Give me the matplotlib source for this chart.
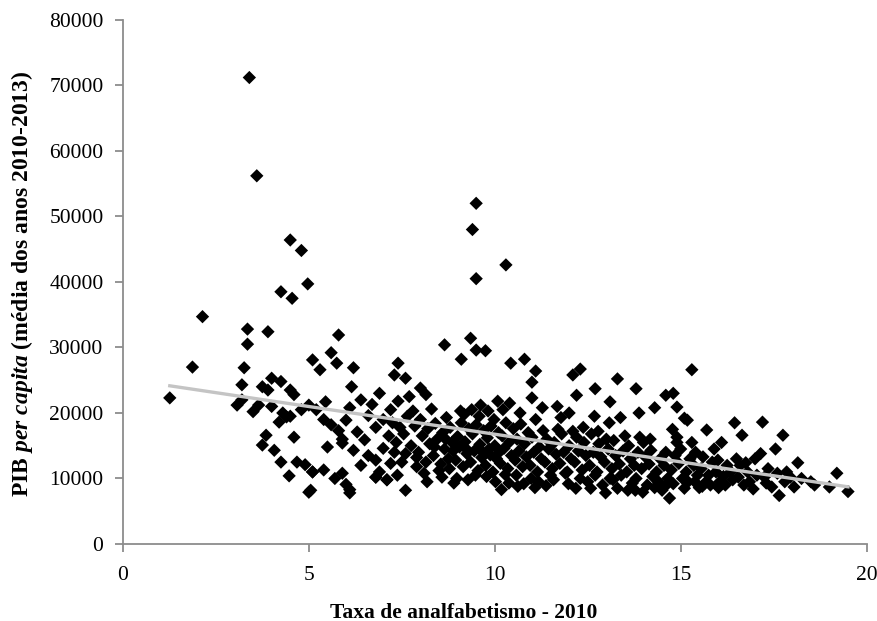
import matplotlib
matplotlib.use("Agg")
import matplotlib.pyplot as plt
import numpy as np

# ---- data ----
outlier_x = [3.4, 3.6, 4.5, 4.8, 4.25, 4.55, 4.97, 3.35, 3.35, 3.9, 2.14, 1.87, 1.26,
             9.5, 9.4, 9.5, 10.3, 9.35, 9.5, 9.1, 9.75, 8.65,
             5.8, 5.6, 5.75, 5.1, 5.3, 6.2, 6.15, 7.4, 7.3, 7.6, 8.0, 8.15, 6.9, 6.4, 5.45,
             10.43, 10.8, 11.1, 11.0, 12.1, 12.3, 12.7, 13.3, 13.8, 13.1, 14.6, 14.8, 14.3,
             14.9, 15.1, 14.9, 15.3, 12.0, 11.0, 10.4, 12.2]
outlier_y = [71200, 56200, 46400, 44800, 38500, 37500, 39700, 32800, 30500, 32400, 34700, 27000, 22300,
             52000, 48000, 40500, 42600, 31400, 29600, 28200, 29500, 30400,
             31900, 29200, 27600, 28100, 26600, 26900, 24000, 27600, 25800, 25300, 23800, 22800, 23000, 22000, 21700,
             27600, 28200, 26400, 24700, 25800, 26700, 23700, 25200, 23700, 21700, 22700, 23000, 20800,
             20900, 19200, 16300, 26600, 20000, 22300, 21500, 22700]

low_x = [3.07, 3.2, 3.2, 3.26, 3.5, 3.65, 3.75, 4.0, 4.25, 4.5, 4.6, 4.3, 4.2, 4.4, 3.85, 3.75,
         4.07, 4.25, 4.47, 4.6, 4.68, 4.9, 5.1, 5.0, 5.0, 4.0, 3.9, 4.8, 4.5,
         5.2, 5.4, 5.6, 5.8, 5.9, 6.0, 6.1, 6.3, 6.5, 6.6, 6.7, 6.8, 7.0, 6.2, 6.6, 6.8, 7.0,
         6.4, 6.0, 6.1, 5.7, 6.9, 7.1, 6.8, 7.2, 5.5, 5.9, 5.1, 5.4, 5.9, 6.1, 5.05, 6.8, 7.1, 7.6, 7.9]
low_y = [21200, 22000, 24300, 26900, 20200, 21200, 24000, 25300, 24800, 23500, 22800, 20000, 18600, 19400, 16600, 15100,
         14300, 12500, 10400, 16300, 12500, 12100, 11000, 7900, 21200, 21000, 23500, 20500, 19500,
         20500, 19000, 18200, 17300, 16000, 18900, 20800, 17100, 15900, 19600, 21300, 17800, 19000, 14300, 13500, 12800, 14600,
         12000, 9100, 8300, 10000, 11000, 9800, 10200, 12300, 14800, 15400, 11000, 11300, 10800, 7800, 8200, 10200, 9800, 8200, 11800]

band_x = [7.15, 7.25, 7.2, 7.3,
          7.35, 7.45, 7.4, 7.5, 7.38,
          7.55, 7.65, 7.6, 7.7,
          7.75, 7.85, 7.8, 7.9,
          7.95, 8.05, 8.0, 8.1,
          8.15, 8.25, 8.2, 8.3, 8.18,
          8.35, 8.45, 8.4, 8.5, 8.38,
          8.55, 8.65, 8.6, 8.7, 8.58, 8.68,
          8.75, 8.85, 8.8, 8.9, 8.78, 8.88,
          8.95, 9.05, 9.0, 9.1, 8.98, 9.08,
          9.15, 9.25, 9.2, 9.3, 9.18, 9.28, 9.22,
          9.35, 9.45, 9.4, 9.5, 9.38, 9.48,
          9.55, 9.65, 9.6, 9.7, 9.58, 9.68, 9.62,
          9.75, 9.85, 9.8, 9.9, 9.78, 9.88, 9.82,
          9.95, 10.05, 10.0, 10.1, 9.98, 10.08, 10.02, 10.12,
          10.15, 10.25, 10.2, 10.3, 10.18, 10.28, 10.22,
          10.35, 10.45, 10.4, 10.5, 10.38,
          10.55, 10.65, 10.6, 10.7, 10.58, 10.68, 10.62,
          10.75, 10.85, 10.8, 10.9, 10.78,
          10.95, 11.05, 11.0, 11.1, 10.98, 11.08,
          11.15, 11.25, 11.2, 11.3, 11.18, 11.28,
          11.35, 11.45, 11.4, 11.5, 11.38,
          11.55, 11.65, 11.6, 11.7, 11.58, 11.68,
          11.75, 11.85, 11.8, 11.9, 11.78,
          11.95, 12.05, 12.0, 12.1, 11.98,
          12.15, 12.25, 12.2, 12.3, 12.18,
          12.35, 12.45, 12.4, 12.5, 12.38,
          12.55, 12.65, 12.6, 12.7, 12.58, 12.68,
          12.75, 12.85, 12.8, 12.9, 12.78,
          12.95, 13.05, 13.0, 13.1, 12.98, 13.08,
          13.15, 13.25, 13.2, 13.3, 13.18,
          13.35, 13.45, 13.4, 13.5, 13.38,
          13.55, 13.65, 13.6, 13.7, 13.58,
          13.75, 13.85, 13.8, 13.9, 13.78, 13.88,
          13.95, 14.05, 14.0, 14.1, 13.98,
          14.15, 14.25, 14.2, 14.3, 14.18,
          14.35, 14.45, 14.4, 14.5,
          14.55, 14.65, 14.6, 14.7, 14.58,
          14.75, 14.85, 14.8, 14.9, 14.78,
          14.95, 15.05, 15.0, 15.1,
          15.15, 15.25, 15.2, 15.3, 15.18,
          15.35, 15.45, 15.4, 15.5, 15.38,
          15.55, 15.65, 15.6, 15.7, 15.58,
          15.75, 15.85, 15.8, 15.9,
          15.95, 16.05, 16.0, 16.1, 16.02,
          16.15, 16.25, 16.2,
          16.35, 16.45, 16.4, 16.5,
          16.55, 16.65, 16.6, 16.7,
          16.75, 16.85, 16.8,
          16.95, 17.05, 17.0,
          17.15, 17.25, 17.2, 17.3,
          17.35, 17.45,
          17.55, 17.65, 17.6,
          17.75, 17.85, 17.8,
          17.95, 18.05,
          18.15, 18.25,
          18.5, 18.6, 19.0, 19.2, 19.5]
band_y = [16500, 18500, 20500, 14000,
          15500, 17800, 21800, 12500, 10500,
          16800, 19500, 13800, 22500,
          15000, 18000, 20300, 13200,
          14000, 16500, 19000, 10800,
          12500, 15300, 17600, 20600, 9500,
          13500, 16000, 18400, 11200, 14800,
          12200, 14500, 17000, 19300, 10200, 16000,
          13000, 15500, 17800, 9300, 11500, 14200,
          12800, 14800, 16400, 18500, 10000, 20300,
          11800, 13800, 15600, 17600, 19800, 9800, 14600,
          12500, 14200, 16800, 18200, 20500, 10500,
          11200, 13200, 15200, 17300, 19500, 14000, 21200,
          12000, 14500, 16200, 18000, 10300, 13600, 20300,
          11000, 13000, 15000, 17000, 19000, 21800, 9500, 14000,
          12300, 14600, 16500, 18500, 8300, 10600, 20500,
          11500, 13500, 15600, 17600, 9300,
          12800, 14200, 16000, 18300, 10500, 20000, 8800,
          11800, 13300, 15300, 17000, 9200,
          12000, 14000, 16300, 19000, 10000, 8600,
          11000, 13000, 14800, 17300, 9500, 20800,
          12500, 14500, 16000, 10500, 8900,
          11500, 13700, 15500, 17500, 9800, 21000,
          12300, 14000, 16800, 10800, 19300,
          11000, 13000, 15000, 17200, 9200,
          12500, 14200, 16300, 10000, 8500,
          11300, 13500, 15500, 9500, 17800,
          12000, 14000, 16800, 10500, 8500, 19500,
          11000, 13300, 15300, 9000, 17200,
          12500, 14500, 16000, 10000, 7800, 18500,
          11500, 13500, 15800, 8500, 9800,
          12200, 14200, 10500, 16500, 19300,
          11000, 13000, 15000, 9300, 8200,
          12000, 14000, 10000, 16300, 8200, 20000,
          11500, 13300, 15500, 9000, 7900,
          12200, 10300, 14300, 8600, 16000,
          11000, 13000, 9500, 8200,
          12000, 10000, 14000, 7000, 8800,
          11300, 13500, 9200, 15500, 17500,
          12300, 10000, 14500, 8500,
          11000, 13000, 9500, 15500, 18900,
          12000, 10500, 14000, 8600, 9500,
          11500, 9300, 13300, 17400, 8800,
          10500, 12500, 9000, 14500,
          11000, 9500, 12800, 15500, 8600,
          10300, 12000, 9000,
          11000, 18500, 9800, 13000,
          10200, 16600, 12000, 9000,
          12400, 9500, 11000,
          8400, 10500, 13000,
          13800, 10200, 18600, 9300,
          11500, 8700,
          14500, 7400, 10800,
          16600, 11000, 9500,
          10200, 8700,
          12400, 10000,
          9500, 9000, 8700, 10800, 8000]

x_ticks = [0, 5, 10, 15, 20]
y_ticks = [0, 10000, 20000, 30000, 40000, 50000, 60000, 70000, 80000]
x_label = "Taxa de analfabetismo - 2010"
y_label = r"PIB $\mathit{per\ capita}$ (média dos anos 2010-2013)"

# ---- assemble ----
xs = np.array(list(outlier_x) + list(low_x) + list(band_x), dtype=float)
ys = np.array(list(outlier_y) + list(low_y) + list(band_y), dtype=float)

plt.rcParams['font.family'] = ['Liberation Serif', 'DejaVu Serif']
plt.rcParams['mathtext.fontset'] = 'custom'
plt.rcParams['mathtext.rm'] = 'Liberation Serif:bold'
plt.rcParams['mathtext.it'] = 'Liberation Serif:italic:bold'
plt.rcParams['mathtext.bf'] = 'Liberation Serif:bold'

fig = plt.figure(figsize=(8.78, 6.21), dpi=100)
ax = fig.add_axes([0.140, 0.124, 0.847, 0.844])

ax.scatter(xs, ys, marker='D', s=46, color='black', edgecolors='none', zorder=2)

coef = np.polyfit(xs, ys, 1)
lx = np.array([xs.min(), xs.max()])
ax.plot(lx, np.polyval(coef, lx), color='#c4c4c4', lw=2.4, zorder=3)

ax.set_xlim(0, 20)
ax.set_ylim(0, 80000)
ax.set_xticks(x_ticks)
ax.set_yticks(y_ticks)
ax.set_xticklabels([str(t) for t in x_ticks])
ax.set_yticklabels([str(t) for t in y_ticks])

for s in ['top', 'right']:
    ax.spines[s].set_visible(False)
for s in ['left', 'bottom']:
    ax.spines[s].set_color('#8c8c8c')
    ax.spines[s].set_linewidth(1.3)
ax.tick_params(axis='both', direction='out', length=6, width=1.3, color='#8c8c8c',
               labelsize=15.5, labelcolor='black')
ax.tick_params(axis='x', pad=10)
ax.tick_params(axis='y', pad=8)

ax.set_xlabel(x_label, fontsize=15.5, fontweight='bold')
ax.xaxis.set_label_coords(0.458, -0.112)
ax.set_ylabel(y_label, fontsize=17, fontweight='bold')
ax.yaxis.set_label_coords(-0.118, 0.497)

fig.savefig('out.png', dpi=100)
